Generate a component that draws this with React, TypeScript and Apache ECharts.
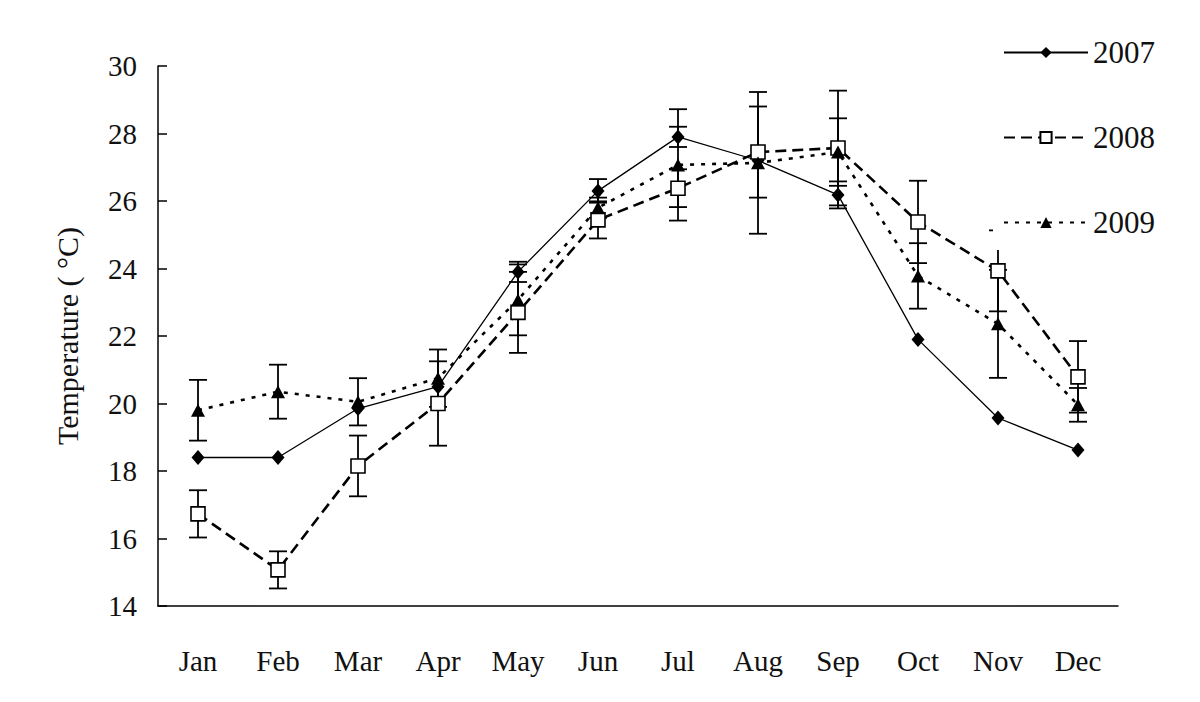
import React, { useEffect, useRef } from "react";
import * as echarts from "echarts";

const months = ["Jan", "Feb", "Mar", "Apr", "May", "Jun", "Jul", "Aug", "Sep", "Oct", "Nov", "Dec"];
const years = ["2007", "2008", "2009"];
const t2007 = [18.4, 18.4, 19.85, 20.5, 23.9, 26.3, 27.9, 27.2, 26.18, 21.9, 19.57, 18.62];
const t2008 = [16.73, 15.07, 18.15, 20.0, 22.7, 25.44, 26.38, 27.45, 27.57, 25.38, 23.93, 20.79];
const t2009 = [19.8, 20.35, 20.05, 20.75, 23.07, 25.8, 27.07, 27.13, 27.45, 23.78, 22.36, 19.96];
const e2007 = [0, 0, 0, 0, 0.3, 0.35, 0.3, 0, 0.4, 0, 0, 0];
const e2008 = [0.7, 0.55, 0.9, 1.25, 1.2, 0.55, 0.56, 1.35, 1.7, 1.22, 1.2, 1.06];
const e2009 = [0.9, 0.8, 0.7, 0.85, 1.05, 0.3, 1.65, 2.1, 1.0, 0.97, 1.6, 0.5];
const yTicks = { min: 14, max: 30, interval: 2 };

const FONT = "'Liberation Serif', 'Times New Roman', serif";

function errorSeries(name: string, vals: number[], errs: number[]) {
  const data = vals
    .map((v, i) => [i, v - errs[i], v + errs[i], errs[i]])
    .filter((d) => d[3] > 0);
  return {
    type: "custom",
    name: name + " err",
    silent: true,
    z: 3,
    encode: { x: 0, y: [1, 2] },
    data,
    renderItem: (params: any, api: any) => {
      const x = api.value(0);
      const lo = api.coord([x, api.value(1)]);
      const hi = api.coord([x, api.value(2)]);
      const w = 9;
      const st = { stroke: "#000", lineWidth: 1.8 };
      return {
        type: "group",
        children: [
          { type: "line", shape: { x1: lo[0], y1: lo[1], x2: hi[0], y2: hi[1] }, style: st },
          { type: "line", shape: { x1: lo[0] - w, y1: lo[1], x2: lo[0] + w, y2: lo[1] }, style: st },
          { type: "line", shape: { x1: hi[0] - w, y1: hi[1], x2: hi[0] + w, y2: hi[1] }, style: st },
        ],
      };
    },
  };
}

export default function App() {
  const ref = useRef<HTMLDivElement>(null);
  useEffect(() => {
    if (!ref.current) return;
    const chart = echarts.init(ref.current, null, { renderer: "svg" });
    chart.setOption({
      animation: false,
      backgroundColor: "#fff",
      textStyle: { fontFamily: FONT, color: "#000" },
      grid: { left: 158, top: 66, width: 960, height: 540 },
      legend: {
        orient: "vertical",
        left: 993,
        top: 27,
        data: years,
        itemWidth: 84,
        itemHeight: 14,
        itemGap: 54,
        backgroundColor: "#fff",
        padding: [10, 8, 12, 10],
        textStyle: { fontFamily: FONT, fontSize: 31, color: "#111" },
      },
      xAxis: {
        type: "category",
        data: months,
        axisLine: { lineStyle: { color: "#000", width: 1.5 } },
        axisTick: { inside: true, length: 8, lineStyle: { color: "#000", width: 1.5 } },
        axisLabel: { margin: 40, fontSize: 29, color: "#111", fontFamily: FONT },
        splitLine: { show: false },
      },
      yAxis: {
        type: "value",
        min: yTicks.min,
        max: yTicks.max,
        interval: yTicks.interval,
        name: "Temperature ( °C)",
        nameLocation: "middle",
        nameGap: 76,
        nameRotate: 90,
        nameTextStyle: { fontSize: 30, fontFamily: FONT, color: "#111" },
        axisLine: { show: true, lineStyle: { color: "#000", width: 1.5 } },
        axisTick: { show: true, inside: true, length: 9, lineStyle: { color: "#000", width: 1.5 } },
        axisLabel: { margin: 21, fontSize: 29, color: "#111", fontFamily: FONT },
        splitLine: { show: false },
      },
      series: [
        errorSeries("2007", t2007, e2007),
        errorSeries("2008", t2008, e2008),
        errorSeries("2009", t2009, e2009),
        {
          name: "2007",
          type: "line",
          data: t2007,
          z: 4,
          symbol: "diamond",
          symbolSize: [13, 15],
          lineStyle: { color: "#000", width: 1.3, type: "solid" },
          itemStyle: { color: "#000", borderColor: "#000", borderWidth: 0 },
        },
        {
          name: "2008",
          type: "line",
          data: t2008,
          z: 4,
          symbol: "rect",
          symbolSize: 14,
          lineStyle: { color: "#000", width: 2.6, type: [11, 6] },
          itemStyle: { color: "#fff", borderColor: "#000", borderWidth: 1.6 },
        },
        {
          name: "2009",
          type: "line",
          data: t2009,
          z: 4,
          symbol: "triangle",
          symbolSize: [14, 13],
          lineStyle: { color: "#000", width: 2.6, type: [4, 7] },
          itemStyle: { color: "#000", borderColor: "#000", borderWidth: 0 },
        },
      ],
    });
    return () => chart.dispose();
  }, []);
  return (
    <div
      ref={ref}
      style={{ position: "fixed", left: 0, top: 0, width: 1200, height: 702, background: "#fff" }}
    />
  );
}
